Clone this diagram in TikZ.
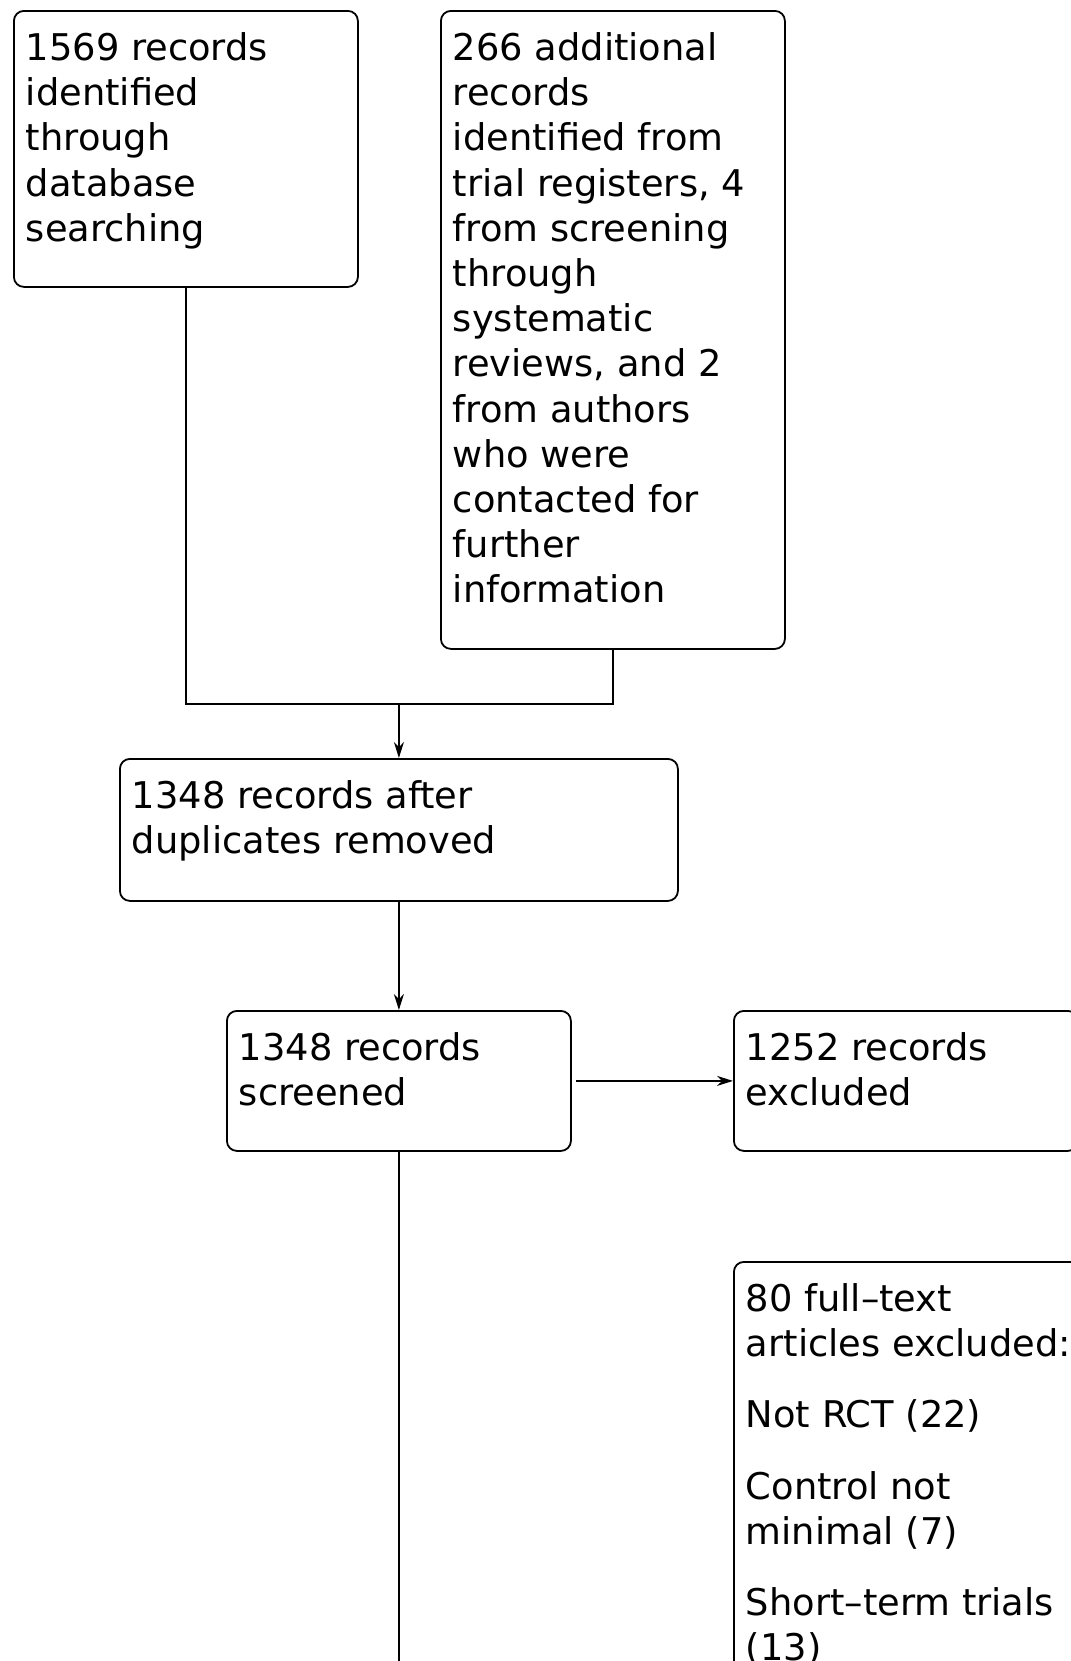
\documentclass[tikz,border=0pt]{standalone}
\usepackage{fontspec}
\setmainfont{DejaVu Sans}
\usetikzlibrary{arrows.meta}
\tikzset{
  flowbox/.style={draw, rounded corners=5pt, line width=0.9pt, anchor=north west,
    inner xsep=6pt, inner ysep=9pt, align=left,
    font=\fontsize{18.4pt}{22.6pt}\selectfont},
  flowline/.style={line width=0.9pt},
  flowarrow/.style={flowline, -{Stealth[length=8pt,width=5pt]}}
}
% top-aligned text of a box: width, height, text
\newcommand{\boxtxt}[3]{\parbox[c][#2][t]{#1}{\raggedright\strut #3}}

\begin{document}
\begin{tikzpicture}[x=0.5pt,y=-0.5pt]
	\useasboundingbox (0,0) rectangle (1071,1661);
	\clip (0,0) rectangle (1071,1661);
	\def\bw{160pt}
	%
	\node[flowbox] (database) at (13,10) {\boxtxt{\bw}{120pt}{1569 records\\identified\\through\\database\\searching}};
	\node[flowbox] (other) at (440,10) {\boxtxt{\bw}{301pt}{266 additional\\records\\identified from\\trial registers, 4\\from screening\\through\\systematic\\reviews, and 2\\from authors\\who were\\contacted for\\further\\information}};
	\node[flowbox] (dedup) at (119,758) {\boxtxt{267pt}{53pt}{1348 records after\\duplicates removed}};
	\node[flowbox] (screened) at (226,1010) {\boxtxt{\bw}{52pt}{1348 records\\screened}};
	\node[flowbox] (excluded) at (733,1010) {\boxtxt{\bw}{52pt}{1252 records\\excluded}};
	% box runs past the right and bottom edges
	\node[flowbox] (fulltext) at (733,1261) {\boxtxt{200pt}{260pt}{80 full–text\\articles excluded:\\[13pt]Not RCT (22)\\[13pt]Control not\\minimal (7)\\[13pt]Short–term trials\\(13)}};
	%
	\coordinate (join) at (399,704);
	\coordinate (down) at (399,1700);
	\draw[flowline] (database.south) |- (join) -| (other.south);
	\draw[flowarrow] (join) -- (dedup.north);
	\draw[flowarrow] (dedup.south) -- (screened.north);
	\draw[flowarrow, shorten <=2pt] (screened.east) -- (excluded.west);
	\draw[flowline] (screened.south) -- (down);
\end{tikzpicture}
\end{document}
